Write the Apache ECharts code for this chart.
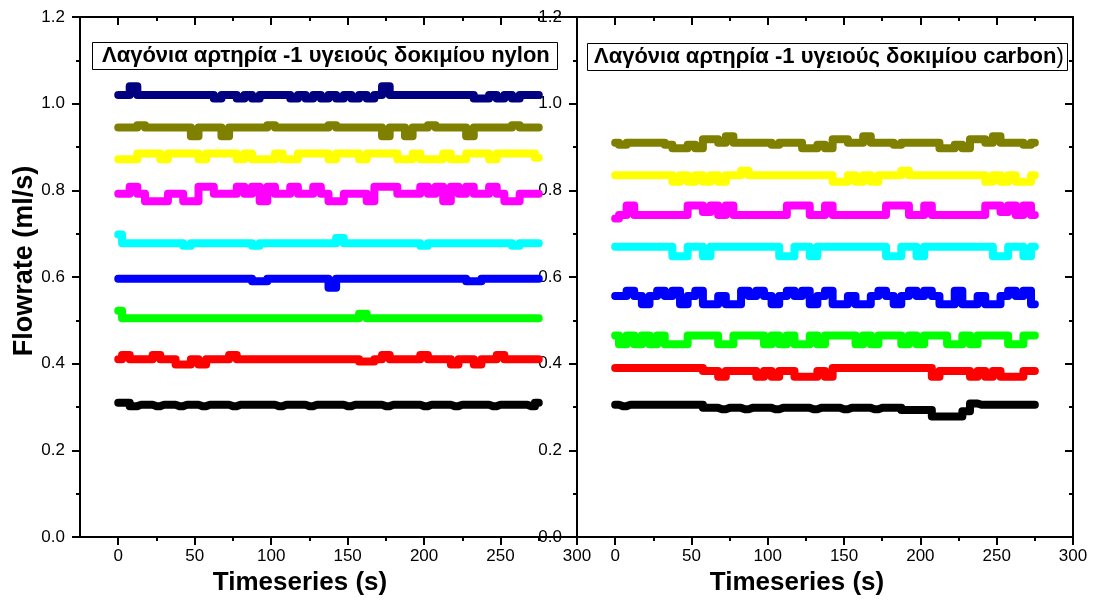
<!DOCTYPE html>
<html>
<head>
<meta charset="utf-8">
<script src="https://cdn.jsdelivr.net/npm/echarts@6/dist/echarts.min.js"></script>
<style>
  html, body { margin: 0; padding: 0; background: #ffffff; }
  #chart { width: 1093px; height: 601px; }
</style>
</head>
<body>
<div id="chart"></div>
<script>
// Sample times (s)
const timeSec = [
  0, 5, 10, 15, 20, 25, 30, 35,
  40, 45, 50, 55, 60, 65, 70, 75,
  80, 85, 90, 95, 100, 105, 110, 115,
  120, 125, 130, 135, 140, 145, 150, 155,
  160, 165, 170, 175, 180, 185, 190, 195,
  200, 205, 210, 215, 220, 225, 230, 235,
  240, 245, 250, 255, 260, 265, 270, 275
];

// Axis ticks
const xMajorTicks = [0, 50, 100, 150, 200, 250, 300];
const xMinorTicks = [25, 75, 125, 175, 225, 275];

// Panel captions
const panelTitles = [
  'Λαγόνια αρτηρία -1 υγειούς δοκιμίου nylon',
  'Λαγόνια αρτηρία -1 υγειούς δοκιμίου carbon'
];

const lineColors = ['#000000', '#FF0000', '#00FF00', '#0000FF', '#00FFFF', '#FF00FF', '#FFFF00', '#808000', '#000080'];

// ---- nylon specimen flowrates (ml/s) ----
const nylonBlack = [
  0.31, 0.31, 0.302, 0.305, 0.305, 0.302, 0.305, 0.305,
  0.302, 0.305, 0.305, 0.302, 0.305, 0.305, 0.305, 0.302,
  0.305, 0.305, 0.305, 0.305, 0.305, 0.302, 0.305, 0.305,
  0.305, 0.302, 0.305, 0.305, 0.305, 0.305, 0.302, 0.305,
  0.305, 0.305, 0.305, 0.302, 0.305, 0.305, 0.305, 0.305,
  0.302, 0.305, 0.305, 0.305, 0.302, 0.305, 0.305, 0.305,
  0.305, 0.302, 0.305, 0.305, 0.305, 0.305, 0.302, 0.31
];
const nylonRed = [
  0.41, 0.42, 0.41, 0.41, 0.41, 0.42, 0.41, 0.41,
  0.398, 0.398, 0.41, 0.398, 0.41, 0.41, 0.41, 0.42,
  0.41, 0.41, 0.41, 0.41, 0.41, 0.41, 0.41, 0.41,
  0.41, 0.41, 0.41, 0.41, 0.41, 0.41, 0.41, 0.41,
  0.405, 0.405, 0.41, 0.42, 0.41, 0.41, 0.41, 0.41,
  0.42, 0.41, 0.41, 0.41, 0.398, 0.41, 0.41, 0.398,
  0.41, 0.41, 0.42, 0.41, 0.41, 0.41, 0.41, 0.41
];
const nylonGreen = [
  0.522, 0.505, 0.505, 0.505, 0.505, 0.505, 0.505, 0.505,
  0.505, 0.505, 0.505, 0.505, 0.505, 0.505, 0.505, 0.505,
  0.505, 0.505, 0.505, 0.505, 0.505, 0.505, 0.505, 0.505,
  0.505, 0.505, 0.505, 0.505, 0.505, 0.505, 0.505, 0.505,
  0.515, 0.505, 0.505, 0.505, 0.505, 0.505, 0.505, 0.505,
  0.505, 0.505, 0.505, 0.505, 0.505, 0.505, 0.505, 0.505,
  0.505, 0.505, 0.505, 0.505, 0.505, 0.505, 0.505, 0.505
];
const nylonBlue = [
  0.596, 0.596, 0.596, 0.596, 0.596, 0.596, 0.596, 0.596,
  0.596, 0.596, 0.596, 0.596, 0.596, 0.596, 0.596, 0.596,
  0.596, 0.596, 0.59, 0.59, 0.596, 0.596, 0.596, 0.596,
  0.596, 0.596, 0.596, 0.596, 0.575, 0.596, 0.596, 0.596,
  0.596, 0.596, 0.596, 0.596, 0.596, 0.596, 0.596, 0.596,
  0.596, 0.596, 0.596, 0.596, 0.596, 0.596, 0.59, 0.59,
  0.596, 0.596, 0.596, 0.596, 0.596, 0.596, 0.596, 0.596
];
const nylonCyan = [
  0.698, 0.678, 0.678, 0.678, 0.678, 0.678, 0.678, 0.678,
  0.678, 0.672, 0.678, 0.678, 0.678, 0.678, 0.678, 0.678,
  0.678, 0.678, 0.672, 0.678, 0.678, 0.678, 0.678, 0.678,
  0.678, 0.678, 0.678, 0.678, 0.678, 0.69, 0.678, 0.678,
  0.678, 0.678, 0.678, 0.678, 0.678, 0.678, 0.678, 0.678,
  0.672, 0.678, 0.678, 0.678, 0.678, 0.678, 0.678, 0.678,
  0.678, 0.678, 0.678, 0.678, 0.672, 0.678, 0.678, 0.678
];
const nylonMagenta = [
  0.792, 0.792, 0.808, 0.792, 0.775, 0.775, 0.775, 0.792,
  0.792, 0.775, 0.775, 0.808, 0.808, 0.792, 0.792, 0.792,
  0.808, 0.792, 0.808, 0.775, 0.808, 0.792, 0.792, 0.808,
  0.792, 0.792, 0.808, 0.792, 0.775, 0.775, 0.792, 0.792,
  0.792, 0.775, 0.808, 0.808, 0.808, 0.792, 0.792, 0.792,
  0.808, 0.792, 0.808, 0.775, 0.808, 0.792, 0.808, 0.792,
  0.792, 0.808, 0.792, 0.775, 0.775, 0.792, 0.792, 0.792
];
const nylonYellow = [
  0.872, 0.872, 0.872, 0.885, 0.885, 0.885, 0.872, 0.885,
  0.885, 0.885, 0.885, 0.872, 0.885, 0.885, 0.885, 0.885,
  0.872, 0.885, 0.872, 0.872, 0.872, 0.885, 0.872, 0.872,
  0.885, 0.885, 0.885, 0.885, 0.872, 0.885, 0.885, 0.885,
  0.872, 0.885, 0.885, 0.885, 0.885, 0.872, 0.872, 0.885,
  0.872, 0.872, 0.872, 0.885, 0.872, 0.872, 0.885, 0.885,
  0.885, 0.872, 0.885, 0.885, 0.885, 0.885, 0.885, 0.875
];
const nylonOlive = [
  0.945, 0.945, 0.945, 0.95, 0.945, 0.945, 0.945, 0.945,
  0.945, 0.945, 0.925, 0.945, 0.945, 0.945, 0.925, 0.945,
  0.945, 0.945, 0.945, 0.945, 0.95, 0.945, 0.945, 0.945,
  0.945, 0.945, 0.945, 0.945, 0.95, 0.945, 0.945, 0.945,
  0.945, 0.945, 0.945, 0.925, 0.945, 0.945, 0.925, 0.945,
  0.945, 0.95, 0.945, 0.945, 0.945, 0.945, 0.925, 0.945,
  0.945, 0.945, 0.945, 0.945, 0.95, 0.945, 0.945, 0.945
];
const nylonNavy = [
  1.02, 1.02, 1.04, 1.02, 1.02, 1.02, 1.02, 1.02,
  1.02, 1.02, 1.02, 1.02, 1.02, 1.012, 1.02, 1.02,
  1.012, 1.02, 1.012, 1.02, 1.02, 1.02, 1.02, 1.012,
  1.02, 1.012, 1.02, 1.012, 1.02, 1.012, 1.02, 1.012,
  1.02, 1.012, 1.02, 1.04, 1.02, 1.02, 1.02, 1.02,
  1.02, 1.02, 1.02, 1.02, 1.02, 1.02, 1.02, 1.012,
  1.012, 1.02, 1.012, 1.02, 1.012, 1.02, 1.02, 1.02
];

// ---- carbon specimen flowrates (ml/s) ----
const carbonBlack = [
  0.305, 0.302, 0.305, 0.305, 0.305, 0.305, 0.305, 0.305,
  0.305, 0.305, 0.305, 0.305, 0.298, 0.298, 0.295, 0.298,
  0.298, 0.295, 0.298, 0.298, 0.298, 0.295, 0.298, 0.298,
  0.298, 0.298, 0.295, 0.298, 0.298, 0.298, 0.295, 0.298,
  0.298, 0.298, 0.295, 0.298, 0.298, 0.298, 0.293, 0.293,
  0.293, 0.293, 0.278, 0.278, 0.278, 0.278, 0.29, 0.308,
  0.305, 0.305, 0.305, 0.305, 0.305, 0.305, 0.305, 0.305
];
const carbonRed = [
  0.39, 0.39, 0.39, 0.39, 0.39, 0.39, 0.39, 0.39,
  0.39, 0.39, 0.39, 0.39, 0.383, 0.383, 0.37, 0.383,
  0.383, 0.383, 0.383, 0.37, 0.383, 0.37, 0.383, 0.383,
  0.37, 0.37, 0.37, 0.383, 0.37, 0.39, 0.39, 0.39,
  0.39, 0.39, 0.39, 0.39, 0.39, 0.39, 0.39, 0.39,
  0.39, 0.39, 0.37, 0.383, 0.383, 0.383, 0.383, 0.37,
  0.383, 0.37, 0.383, 0.37, 0.37, 0.37, 0.383, 0.383
];
const carbonGreen = [
  0.465, 0.445, 0.465, 0.445, 0.465, 0.445, 0.465, 0.445,
  0.445, 0.445, 0.465, 0.465, 0.465, 0.465, 0.445, 0.445,
  0.465, 0.465, 0.465, 0.465, 0.445, 0.465, 0.445, 0.465,
  0.445, 0.445, 0.465, 0.445, 0.465, 0.465, 0.465, 0.465,
  0.445, 0.465, 0.445, 0.465, 0.465, 0.465, 0.445, 0.465,
  0.445, 0.465, 0.465, 0.465, 0.445, 0.445, 0.465, 0.445,
  0.465, 0.465, 0.465, 0.465, 0.445, 0.445, 0.465, 0.465
];
const carbonBlue = [
  0.556, 0.556, 0.568, 0.556, 0.537, 0.556, 0.568, 0.556,
  0.568, 0.537, 0.556, 0.568, 0.537, 0.537, 0.556, 0.537,
  0.537, 0.568, 0.556, 0.568, 0.556, 0.537, 0.556, 0.568,
  0.556, 0.568, 0.537, 0.556, 0.568, 0.537, 0.537, 0.556,
  0.537, 0.537, 0.556, 0.568, 0.556, 0.537, 0.556, 0.568,
  0.556, 0.568, 0.556, 0.537, 0.537, 0.568, 0.537, 0.537,
  0.556, 0.537, 0.537, 0.556, 0.568, 0.556, 0.568, 0.537
];
const carbonCyan = [
  0.67, 0.67, 0.67, 0.67, 0.67, 0.67, 0.67, 0.67,
  0.648, 0.648, 0.67, 0.67, 0.648, 0.67, 0.67, 0.67,
  0.67, 0.67, 0.67, 0.67, 0.67, 0.67, 0.648, 0.648,
  0.67, 0.67, 0.648, 0.67, 0.67, 0.67, 0.67, 0.67,
  0.67, 0.67, 0.67, 0.67, 0.648, 0.648, 0.67, 0.67,
  0.648, 0.67, 0.67, 0.67, 0.67, 0.67, 0.67, 0.67,
  0.67, 0.67, 0.648, 0.648, 0.67, 0.67, 0.648, 0.67
];
const carbonMagenta = [
  0.735, 0.743, 0.765, 0.743, 0.743, 0.743, 0.743, 0.743,
  0.743, 0.743, 0.765, 0.765, 0.75, 0.765, 0.743, 0.765,
  0.743, 0.743, 0.743, 0.743, 0.743, 0.743, 0.743, 0.765,
  0.765, 0.765, 0.743, 0.743, 0.765, 0.743, 0.743, 0.743,
  0.743, 0.743, 0.743, 0.743, 0.765, 0.765, 0.765, 0.743,
  0.743, 0.765, 0.743, 0.743, 0.743, 0.743, 0.743, 0.743,
  0.743, 0.765, 0.765, 0.75, 0.765, 0.743, 0.765, 0.743
];
const carbonYellow = [
  0.835, 0.835, 0.835, 0.835, 0.835, 0.835, 0.835, 0.835,
  0.82, 0.835, 0.82, 0.835, 0.82, 0.835, 0.82, 0.835,
  0.835, 0.845, 0.835, 0.835, 0.835, 0.835, 0.835, 0.835,
  0.835, 0.835, 0.835, 0.835, 0.835, 0.82, 0.82, 0.835,
  0.82, 0.835, 0.82, 0.835, 0.835, 0.835, 0.845, 0.835,
  0.835, 0.835, 0.835, 0.835, 0.835, 0.835, 0.835, 0.835,
  0.835, 0.82, 0.835, 0.82, 0.835, 0.82, 0.82, 0.835
];
const carbonOlive = [
  0.91, 0.905, 0.91, 0.91, 0.91, 0.91, 0.91, 0.905,
  0.897, 0.897, 0.905, 0.897, 0.918, 0.918, 0.91, 0.925,
  0.91, 0.91, 0.91, 0.91, 0.91, 0.905, 0.91, 0.91,
  0.91, 0.897, 0.897, 0.905, 0.897, 0.918, 0.918, 0.91,
  0.91, 0.925, 0.91, 0.91, 0.91, 0.905, 0.91, 0.91,
  0.91, 0.91, 0.91, 0.897, 0.897, 0.905, 0.897, 0.918,
  0.918, 0.91, 0.925, 0.91, 0.91, 0.91, 0.905, 0.91
];

const nylonSeries = [nylonBlack, nylonRed, nylonGreen, nylonBlue, nylonCyan, nylonMagenta, nylonYellow, nylonOlive, nylonNavy];
const carbonSeries = [carbonBlack, carbonRed, carbonGreen, carbonBlue, carbonCyan, carbonMagenta, carbonYellow, carbonOlive];

const FONT = '"Liberation Sans", Arial, sans-serif';
const INK = '#000000';

const grids = [
  { left: 80, top: 17, width: 497, height: 520 },
  { left: 577, top: 17, width: 496, height: 520 }
];

function xAxesFor(g) {
  const base = { gridIndex: g, type: 'value', min: -25, max: 300, splitLine: { show: false } };
  return [
    Object.assign({}, base, {
      position: 'bottom',
      axisLine: { show: true, onZero: false, lineStyle: { color: INK, width: 2 } },
      axisTick: { show: true, customValues: xMajorTicks, length: 8, lineStyle: { color: INK, width: 2 } },
      axisLabel: { show: true, customValues: xMajorTicks, fontSize: 17, color: INK, fontFamily: FONT, margin: 11 }
    }),
    Object.assign({}, base, {
      position: 'bottom',
      axisLine: { show: false, onZero: false },
      axisTick: { show: true, customValues: xMinorTicks, length: 4, lineStyle: { color: INK, width: 2 } },
      axisLabel: { show: false }
    }),
    Object.assign({}, base, {
      position: 'top',
      axisLine: { show: true, onZero: false, lineStyle: { color: INK, width: 2 } },
      axisTick: { show: true, inside: true, customValues: xMajorTicks, length: 8, lineStyle: { color: INK, width: 2 } },
      axisLabel: { show: false }
    }),
    Object.assign({}, base, {
      position: 'top',
      axisLine: { show: false, onZero: false },
      axisTick: { show: true, inside: true, customValues: xMinorTicks, length: 4, lineStyle: { color: INK, width: 2 } },
      axisLabel: { show: false }
    })
  ];
}

function yAxesFor(g) {
  const base = { gridIndex: g, type: 'value', min: 0, max: 1.2, interval: 0.2, splitLine: { show: false } };
  return [
    Object.assign({}, base, {
      position: 'left',
      axisLine: { show: true, onZero: false, lineStyle: { color: INK, width: 2 } },
      axisTick: { show: true, length: 8, lineStyle: { color: INK, width: 2 } },
      minorTick: { show: true, splitNumber: 2, length: 4, lineStyle: { color: INK, width: 2 } },
      axisLabel: { show: true, fontSize: 17, color: INK, fontFamily: FONT, margin: 15,
                   formatter: v => v.toFixed(1) }
    }),
    Object.assign({}, base, {
      position: 'right',
      axisLine: { show: true, onZero: false, lineStyle: { color: INK, width: 2 } },
      axisTick: { show: true, inside: true, length: 8, lineStyle: { color: INK, width: 2 } },
      minorTick: { show: true, splitNumber: 2, length: 4, lineStyle: { color: INK, width: 2 } },
      axisLabel: { show: false }
    })
  ];
}

function lineSeries(g, values, color) {
  return {
    type: 'line',
    xAxisIndex: g * 4,
    yAxisIndex: g * 2,
    data: timeSec.map((t, i) => [t, values[i]]),
    step: 'middle',
    showSymbol: false,
    silent: true,
    lineStyle: { color: color, width: 8, cap: 'round', join: 'round' },
    itemStyle: { color: color },
    z: 2
  };
}

const series = [];
nylonSeries.forEach((vals, i) => series.push(lineSeries(0, vals, lineColors[i])));
carbonSeries.forEach((vals, i) => series.push(lineSeries(1, vals, lineColors[i])));

const boxStyle = {
  borderColor: INK,
  borderWidth: 1,
  backgroundColor: '#ffffff'
};

const option = {
  animation: false,
  backgroundColor: '#ffffff',
  grid: grids,
  xAxis: xAxesFor(0).concat(xAxesFor(1)),
  yAxis: yAxesFor(0).concat(yAxesFor(1)),
  title: [
    Object.assign({}, boxStyle, {
      left: 92, top: 42,
      padding: [3, 8, 3, 10],
      text: panelTitles[0],
      textStyle: { fontFamily: FONT, fontWeight: 'bold', fontSize: 22, color: INK, lineHeight: 22 }
    }),
    Object.assign({}, boxStyle, {
      left: 587, top: 43,
      padding: [3, 4, 3, 7],
      text: '{b|' + panelTitles[1] + '}{n|)}',
      textStyle: {
        fontFamily: FONT, fontSize: 22, color: INK, lineHeight: 22,
        rich: {
          b: { fontFamily: FONT, fontWeight: 'bold', fontSize: 22, color: INK, lineHeight: 22 },
          n: { fontFamily: FONT, fontWeight: 'normal', fontSize: 22, color: INK, lineHeight: 22 }
        }
      }
    })
  ],
  graphic: [
    { type: 'text', x: 25, y: 261, rotation: Math.PI / 2,
      style: { text: 'Flowrate (ml/s)', font: 'bold 27px ' + FONT, fill: INK, align: 'center', verticalAlign: 'middle' } },
    { type: 'text', x: 300, y: 583,
      style: { text: 'Timeseries (s)', font: 'bold 26px ' + FONT, fill: INK, align: 'center', verticalAlign: 'middle' } },
    { type: 'text', x: 797, y: 583,
      style: { text: 'Timeseries (s)', font: 'bold 26px ' + FONT, fill: INK, align: 'center', verticalAlign: 'middle' } }
  ],
  series: series
};

const chart = echarts.init(document.getElementById('chart'), null, { renderer: 'canvas' });
chart.setOption(option);
</script>
</body>
</html>
